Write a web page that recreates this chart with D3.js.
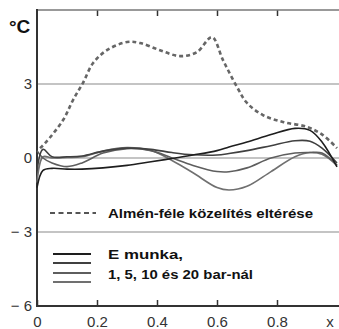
<!DOCTYPE html>
<meta charset="utf-8">
<script src="https://d3js.org/d3.v7.min.js"></script>
<style>
body { margin: 0; background: #fff; }
svg text { font-family: "Liberation Sans", Arial, sans-serif; }
</style>
<body>
<script>
// x positions and values
var xAlmen = [0.01, 0.027, 0.087, 0.12, 0.153, 0.187, 0.233, 0.3, 0.343, 0.41, 0.477, 0.533, 0.583, 0.62, 0.667, 0.7, 0.753, 0.82, 0.9, 0.953, 1.0];
var yAlmen = [0.4, 0.6, 1.54, 2.35, 3.04, 3.85, 4.37, 4.7, 4.66, 4.37, 4.13, 4.29, 4.9, 3.97, 2.87, 2.23, 1.74, 1.46, 1.26, 0.93, 0.4];

var xWork = [0, 0.02, 0.05, 0.1, 0.15, 0.22, 0.3, 0.38, 0.45, 0.52, 0.6, 0.64, 0.7, 0.78, 0.86, 0.91, 0.95, 1.0];
var yWork1 = [-1.2, -0.5, -0.42, -0.45, -0.45, -0.4, -0.3, -0.15, -0.02, 0.12, 0.3, 0.45, 0.65, 0.95, 1.2, 1.12, 0.65, -0.36];
var yWork5 = [-0.5, 0.35, 0.05, 0.05, 0.08, 0.28, 0.4, 0.35, 0.22, 0.13, 0.12, 0.18, 0.3, 0.5, 0.7, 0.68, 0.4, -0.2];
var yWork10 = [0.3, 0.0, -0.2, -0.35, -0.2, 0.2, 0.38, 0.3, 0.0, -0.3, -0.55, -0.56, -0.4, 0.0, 0.2, 0.22, 0.2, -0.3];
var yWork20 = [-1.0, 0.05, 0.0, 0.02, 0.05, 0.28, 0.42, 0.3, -0.1, -0.6, -1.2, -1.3, -1.15, -0.55, 0.05, 0.22, 0.15, -0.3];

var yTicks = [-6, -3, 0, 3];
var xTicks = [0, 0.2, 0.4, 0.6, 0.8];
var workColors = ["#1e1e1e", "#404040", "#5e5e5e", "#707070"];
var legendAlmen = "Almén-féle közelítés eltérése";
var legendWork = ["E munka,", "1, 5, 10 és 20 bar-nál"];

var width = 339, height = 329;
var svg = d3.select("body").append("svg")
    .attr("width", width)
    .attr("height", height);

var x = d3.scaleLinear().domain([0, 1]).range([37, 337]);
var y = d3.scaleLinear().domain([-6, 6]).range([306, 10]);

// horizontal grid lines
svg.append("g")
    .selectAll("line")
    .data([-3, 0, 3])
    .enter().append("line")
    .attr("x1", 37).attr("x2", 339)
    .attr("y1", function(d) { return y(d); })
    .attr("y2", function(d) { return y(d); })
    .attr("stroke", "#8a8a8a")
    .attr("stroke-width", 1.2);

// top frame line with ticks
var topAxis = svg.append("g")
    .attr("transform", "translate(0," + y(6) + ")")
    .call(d3.axisTop(x).tickValues([0.2, 0.4, 0.6, 0.8]).tickSize(-6).tickFormat(""));
topAxis.select(".domain").remove();
topAxis.selectAll("line").attr("stroke", "#333").attr("stroke-width", 1.5);
svg.append("line")
    .attr("x1", 37).attr("x2", 339)
    .attr("y1", y(6)).attr("y2", y(6))
    .attr("stroke", "#777").attr("stroke-width", 1.5);

// bottom axis
var xAxis = svg.append("g")
    .attr("transform", "translate(0," + y(-6) + ")")
    .call(d3.axisBottom(x).tickValues(xTicks).tickSize(-6).tickPadding(10)
        .tickFormat(function(d) { return d === 0 ? "0" : d3.format(".1f")(d); }));
xAxis.select(".domain").remove();
xAxis.selectAll("line").attr("stroke", "#333").attr("stroke-width", 1.5);
xAxis.selectAll("text")
    .attr("font-size", "15px")
    .attr("fill", "#333")
    .attr("font-family", "Liberation Sans, Arial, sans-serif");
svg.append("line")
    .attr("x1", 37).attr("x2", 339)
    .attr("y1", y(-6)).attr("y2", y(-6))
    .attr("stroke", "#333").attr("stroke-width", 2);
svg.append("text")
    .attr("x", 330).attr("y", 327)
    .attr("font-size", "15px")
    .attr("fill", "#333")
    .attr("text-anchor", "middle")
    .text("x");

// left axis
var yAxis = svg.append("g")
    .attr("transform", "translate(" + x(0) + ",0)")
    .call(d3.axisLeft(y).tickValues(yTicks).tickSize(0).tickPadding(5)
        .tickFormat(function(d) { return d < 0 ? "\u2212 " + Math.abs(d) : String(d); }));
yAxis.select(".domain").remove();
yAxis.selectAll("text")
    .attr("font-size", "15px")
    .attr("fill", "#333")
    .attr("font-family", "Liberation Sans, Arial, sans-serif");
svg.append("line")
    .attr("x1", x(0)).attr("x2", x(0))
    .attr("y1", y(6) - 1).attr("y2", y(-6) + 1)
    .attr("stroke", "#333").attr("stroke-width", 2);

svg.append("text")
    .attr("x", 9).attr("y", 33)
    .attr("font-size", "19px")
    .attr("font-weight", "bold")
    .attr("fill", "#111")
    .text("°C");

// curves
var line = d3.line()
    .x(function(d) { return x(d[0]); })
    .y(function(d) { return y(d[1]); })
    .curve(d3.curveCatmullRom.alpha(0.5));

[yWork20, yWork10, yWork5, yWork1].forEach(function(ys, i) {
    svg.append("path")
        .datum(xWork.map(function(v, j) { return [v, ys[j]]; }))
        .attr("d", line)
        .attr("fill", "none")
        .attr("stroke", workColors[3 - i])
        .attr("stroke-width", 1.6);
});

svg.append("path")
    .datum(xAlmen.map(function(v, j) { return [v, yAlmen[j]]; }))
    .attr("d", line)
    .attr("fill", "none")
    .attr("stroke", "#666")
    .attr("stroke-width", 2.6)
    .attr("stroke-dasharray", "4,3");

// legend
svg.append("line")
    .attr("x1", 50).attr("x2", 96)
    .attr("y1", 213).attr("y2", 213)
    .attr("stroke", "#555")
    .attr("stroke-width", 2.2)
    .attr("stroke-dasharray", "5,3.5");
svg.append("text")
    .attr("x", 108).attr("y", 218)
    .attr("font-size", "13.5px")
    .attr("font-weight", "bold")
    .attr("fill", "#111")
    .attr("textLength", 205)
    .attr("lengthAdjust", "spacingAndGlyphs")
    .text(legendAlmen);

svg.append("g")
    .selectAll("line")
    .data(workColors)
    .enter().append("line")
    .attr("x1", 53).attr("x2", 91)
    .attr("y1", function(d, i) { return [254, 263, 273, 282][i]; })
    .attr("y2", function(d, i) { return [254, 263, 273, 282][i]; })
    .attr("stroke", function(d) { return d; })
    .attr("stroke-width", 1.8);
svg.append("g")
    .selectAll("text")
    .data(legendWork)
    .enter().append("text")
    .attr("x", 108)
    .attr("y", function(d, i) { return 259 + i * 20; })
    .attr("font-size", "13.5px")
    .attr("font-weight", "bold")
    .attr("fill", "#111")
    .attr("textLength", function(d, i) { return [75, 145][i]; })
    .attr("lengthAdjust", "spacingAndGlyphs")
    .text(function(d) { return d; });
</script>
</body>
